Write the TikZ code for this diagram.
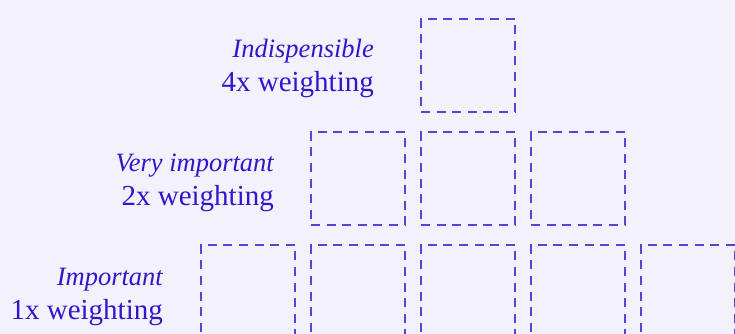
\documentclass[tikz,border=0pt]{standalone}
\usepackage{fontspec}
\setmainfont{Liberation Serif}
\definecolor{bgcol}{HTML}{F3F2FC}
\definecolor{txtcol}{HTML}{3514CC}
\definecolor{dashcol}{HTML}{5842D8}
\tikzset{
  slot/.style={draw=dashcol, line width=1.8pt, dash pattern=on 9pt off 6.6pt,
    minimum width=94pt, minimum height=93pt, inner sep=0pt, anchor=north west},
  lbl/.style={text=txtcol, font=\fontsize{29}{34}\selectfont, inner sep=0pt, anchor=base east},
  lbli/.style={lbl, font=\fontsize{26.5}{31}\selectfont\itshape}
}
\begin{document}
\begin{tikzpicture}[x=1pt,y=-1pt]
\useasboundingbox (0,0) rectangle (735,334);
\fill[bgcol] (0,0) rectangle (735,334);
\clip (0,0) rectangle (735,334);
% row 1
\node[slot] (a1) at (420,18) {};
\node[lbli] (t1) at (374,58) {Indispensible};
\node[lbl] (w1) at (374,92) {4x weighting};
% row 2
\node[slot] (b1) at (310,131) {};
\node[slot] (b2) at (420,131) {};
\node[slot] (b3) at (530,131) {};
\node[lbli] (t2) at (274,171) {Very important};
\node[lbl] (w2) at (274,205) {2x weighting};
% row 3
\node[slot] (c1) at (200,244) {};
\node[slot] (c2) at (310,244) {};
\node[slot] (c3) at (420,244) {};
\node[slot] (c4) at (530,244) {};
\node[slot] (c5) at (640,244) {};
\node[lbli] (t3) at (163,285) {Important};
\node[lbl] (w3) at (163,319) {1x weighting};
\end{tikzpicture}
\end{document}
